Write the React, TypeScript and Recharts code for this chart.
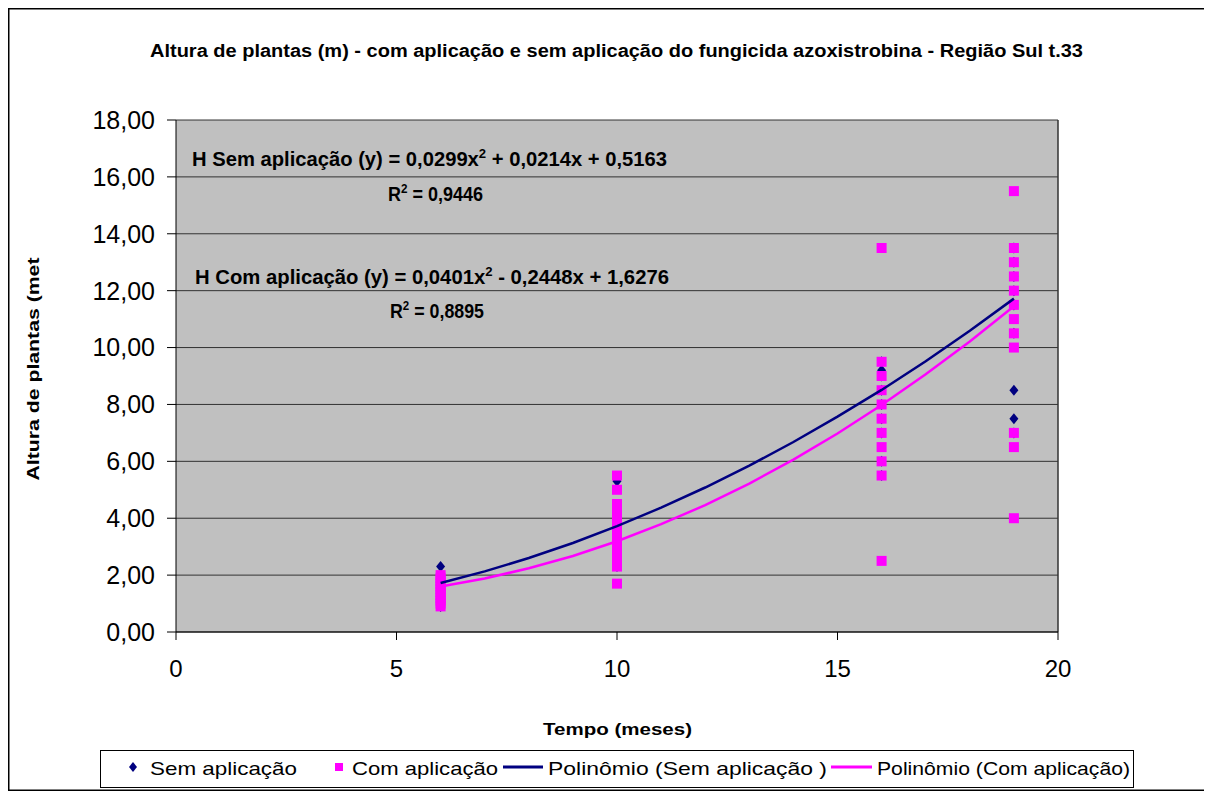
import React from 'react';
import { ScatterChart, Scatter, XAxis, YAxis, CartesianGrid, ReferenceLine } from 'recharts';

// Sampling months
const months = [6, 10, 16, 19];

// "Sem aplicação" observed heights (m), one list per month
const semAt6 = [2.3, 2.0, 1.8, 1.6, 1.5, 1.3, 1.2, 1.0, 0.9];
const semAt10 = [5.3, 4.3, 4.2, 4.0, 3.8, 3.6, 3.4, 3.2, 3.0, 2.8, 2.6, 2.4, 2.3];
const semAt16 = [9.5, 9.2, 9.0, 8.5, 8.0, 7.5, 7.0, 6.0, 5.5];
const semAt19 = [13.5, 13.0, 12.5, 12.0, 11.5, 10.5, 8.5, 7.5, 7.0];

// "Com aplicação" observed heights (m)
const comAt6 = [2.0, 1.9, 1.8, 1.7, 1.6, 1.5, 1.4, 1.3, 1.2, 1.1, 1.0, 0.9];
const comAt10 = [5.5, 5.0, 4.5, 4.3, 4.1, 4.0, 3.9, 3.8, 3.7, 3.6, 3.5, 3.4, 3.3, 3.2, 3.0, 2.9, 2.8, 2.7, 2.6, 2.5, 2.4, 2.3, 1.7];
const comAt16 = [13.5, 9.5, 9.0, 8.5, 8.0, 7.5, 7.0, 6.5, 6.0, 5.5, 2.5];
const comAt19 = [15.5, 13.5, 13.0, 12.5, 12.0, 11.5, 11.0, 10.5, 10.0, 7.0, 6.5, 4.0];

// Trendline readings (polynomial curves as drawn)
const trendMonths = [6, 7, 8, 9, 10, 11, 12, 13, 14, 15, 16, 17, 18, 19];
const trendSem = [1.72, 2.13, 2.6, 3.13, 3.72, 4.37, 5.08, 5.85, 6.68, 7.57, 8.51, 9.52, 10.59, 11.72];
const trendCom = [1.6, 1.88, 2.24, 2.67, 3.19, 3.79, 4.46, 5.22, 6.06, 6.98, 7.98, 9.06, 10.21, 11.45];

const xTicks = [0, 5, 10, 15, 20];
const yTicks = [0, 2, 4, 6, 8, 10, 12, 14, 16, 18];

const semGroups = [semAt6, semAt10, semAt16, semAt19];
const comGroups = [comAt6, comAt10, comAt16, comAt19];
const semData = months.flatMap((m, i) => semGroups[i].map((v) => ({ x: m, y: v })));
const comData = months.flatMap((m, i) => comGroups[i].map((v) => ({ x: m, y: v })));
const trendSemData = trendMonths.map((m, i) => ({ x: m, y: trendSem[i] }));
const trendComData = trendMonths.map((m, i) => ({ x: m, y: trendCom[i] }));

const NAVY = '#000080';
const MAGENTA = '#FF00FF';
const FONT = '"Liberation Sans", Arial, sans-serif';

const Diamond = (props: any) => {
  const { cx, cy } = props;
  if (cx == null || cy == null) return <g />;
  return <path d={`M${cx},${cy - 5.5} L${cx + 4.5},${cy} L${cx},${cy + 5.5} L${cx - 4.5},${cy} Z`} fill={NAVY} />;
};
const Square = (props: any) => {
  const { cx, cy } = props;
  if (cx == null || cy == null) return <g />;
  return <rect x={cx - 5} y={cy - 5} width={10} height={10} fill={MAGENTA} />;
};
const NoShape = () => <g />;

const fmtY = (v: number) => v.toFixed(2).replace('.', ',');

export default function App() {
  return (
    <div style={{ position: 'relative', width: 1204, height: 785, fontFamily: FONT }}>
      <ScatterChart width={1204} height={785} margin={{ top: 112, right: 154, bottom: 101, left: 88 }}>
        <CartesianGrid fill="#C0C0C0" horizontal={true} vertical={false} stroke="#222" strokeOpacity={0.9} />
        <XAxis
          type="number"
          dataKey="x"
          domain={[0, 20]}
          ticks={xTicks}
          height={60}
          tickSize={8}
          tickMargin={20}
          axisLine={{ stroke: '#000' }}
          tickLine={{ stroke: '#000' }}
          tick={{ fill: '#000', fontSize: 24, fontFamily: FONT }}
          allowDataOverflow
        />
        <YAxis
          type="number"
          dataKey="y"
          domain={[0, 18]}
          ticks={yTicks}
          width={80}
          tickSize={9}
          tickMargin={12}
          tickFormatter={fmtY}
          axisLine={{ stroke: '#000' }}
          tickLine={{ stroke: '#000' }}
          tick={{ fill: '#000', fontSize: 25, fontFamily: FONT }}
          allowDataOverflow
        />
        <ReferenceLine x={20} stroke="#333" strokeWidth={1.5} />
        <Scatter name="Sem aplicação" data={semData} shape={Diamond} isAnimationActive={false} />
        <Scatter name="Com aplicação" data={comData} shape={Square} isAnimationActive={false} />
        <Scatter
          name="Polinômio (Sem aplicação )"
          data={trendSemData}
          shape={NoShape}
          line={{ stroke: NAVY, strokeWidth: 2.5 }}
          lineType="joint"
          isAnimationActive={false}
        />
        <Scatter
          name="Polinômio (Com aplicação)"
          data={trendComData}
          shape={NoShape}
          line={{ stroke: MAGENTA, strokeWidth: 2.5 }}
          lineType="joint"
          isAnimationActive={false}
        />
      </ScatterChart>
      <svg
        width={1204}
        height={785}
        style={{ position: 'absolute', left: 0, top: 0, pointerEvents: 'none', fontFamily: FONT }}
      >
        <rect x={0.75} y={0.75} width={1201.5} height={781.5} fill="none" stroke="#000" strokeWidth={1.5} />
        <text x={608.5} y={49} textAnchor="middle" fontSize={18} fontWeight="bold" fill="#000" textLength={933} lengthAdjust="spacingAndGlyphs">
          Altura de plantas (m) - com aplicação e sem aplicação do fungicida azoxistrobina - Região Sul t.33
        </text>
        <text x={184} y={158} fontSize={20} fontWeight="bold" fill="#000" textLength={475} lengthAdjust="spacingAndGlyphs">
          H Sem aplicação (y) = 0,0299x<tspan dy={-8} fontSize={13}>2</tspan><tspan dy={8}> + 0,0214x + 0,5163</tspan>
        </text>
        <text x={380} y={193} fontSize={20} fontWeight="bold" fill="#000" textLength={95} lengthAdjust="spacingAndGlyphs">
          R<tspan dy={-8} fontSize={13}>2</tspan><tspan dy={8}> = 0,9446</tspan>
        </text>
        <text x={187} y={276} fontSize={20} fontWeight="bold" fill="#000" textLength={474} lengthAdjust="spacingAndGlyphs">
          H Com aplicação (y) = 0,0401x<tspan dy={-8} fontSize={13}>2</tspan><tspan dy={8}> - 0,2448x + 1,6276</tspan>
        </text>
        <text x={382} y={310} fontSize={20} fontWeight="bold" fill="#000" textLength={94} lengthAdjust="spacingAndGlyphs">
          R<tspan dy={-8} fontSize={13}>2</tspan><tspan dy={8}> = 0,8895</tspan>
        </text>
        <text
          x={0}
          y={0}
          transform="translate(31, 361) rotate(-90)"
          textAnchor="middle"
          fontSize={17}
          fontWeight="bold"
          fill="#000"
          textLength={223}
          lengthAdjust="spacingAndGlyphs"
        >
          Altura de plantas (met
        </text>
        <text x={609.5} y={727} textAnchor="middle" fontSize={17} fontWeight="bold" fill="#000" textLength={149} lengthAdjust="spacingAndGlyphs">
          Tempo (meses)
        </text>
        <rect x={92.5} y={742.5} width={1033} height={37} fill="#fff" stroke="#000" strokeWidth={1} />
        <path d="M125,754 L129,759 L125,764 L121,759 Z" fill={NAVY} />
        <text x={142} y={767} fontSize={19} fill="#000" textLength={147} lengthAdjust="spacingAndGlyphs">Sem aplicação</text>
        <rect x={327} y={755} width={8} height={8} fill={MAGENTA} />
        <text x={344} y={767} fontSize={19} fill="#000" textLength={146} lengthAdjust="spacingAndGlyphs">Com aplicação</text>
        <line x1={495} y1={759} x2={535} y2={759} stroke={NAVY} strokeWidth={3} />
        <text x={540} y={767} fontSize={19} fill="#000" textLength={279} lengthAdjust="spacingAndGlyphs">Polinômio (Sem aplicação )</text>
        <line x1={823} y1={759} x2={864} y2={759} stroke={MAGENTA} strokeWidth={3} />
        <text x={869} y={767} fontSize={19} fill="#000" textLength={253} lengthAdjust="spacingAndGlyphs">Polinômio (Com aplicação)</text>
      </svg>
    </div>
  );
}
